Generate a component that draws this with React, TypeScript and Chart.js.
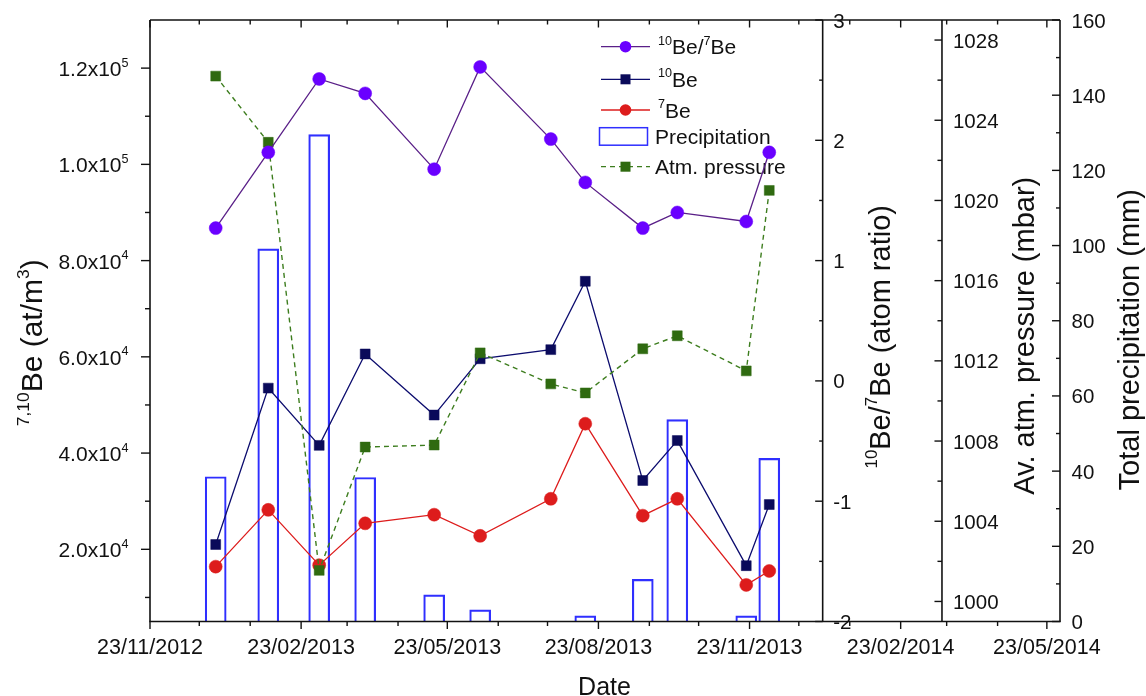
import React, { useEffect, useRef } from 'react';
import { Chart, registerables } from 'chart.js';

Chart.register(...registerables);

// ---------------- data ----------------
const sampleDates = ['2013-01-02', '2013-02-03', '2013-03-06', '2013-04-03', '2013-05-15', '2013-06-12', '2013-07-25', '2013-08-15', '2013-09-19', '2013-10-10', '2013-11-21', '2013-12-05'];
const ratio10Be7Be = [1.27, 1.9, 2.51, 2.39, 1.76, 2.61, 2.01, 1.65, 1.27, 1.4, 1.325, 1.9];
const be10Values = [21000, 53500, 41600, 60600, 47900, 59600, 61500, 75700, 34300, 42600, 16600, 29300];
const be7Values = [16400, 28200, 16700, 25400, 27200, 22800, 30500, 46100, 27000, 30500, 12600, 15500];
const precipitationMm = [38.5, 99.1, 129.5, 38.3, 7.1, 3.1, 0, 1.5, 11.2, 53.7, 1.5, 43.4];
const atmPressureMbar = [1026.2, 1022.9, 1001.55, 1007.7, 1007.8, 1012.4, 1010.85, 1010.4, 1012.6, 1013.25, 1011.5, 1020.5];

const xMajorTickDates = ['2012-11-23', '2013-02-23', '2013-05-23', '2013-08-23', '2013-11-23', '2014-02-23', '2014-05-23'];
const xMinorTickDates = ['2012-12-23', '2013-01-23', '2013-03-23', '2013-04-23', '2013-06-23', '2013-07-23', '2013-09-23', '2013-10-23', '2013-12-23', '2014-01-23', '2014-03-23', '2014-04-23'];
const beTicks = [20000, 40000, 60000, 80000, 100000, 120000];
const beMinorTicks = [10000, 30000, 50000, 70000, 90000, 110000];
const ratioTicks = [-2, -1, 0, 1, 2, 3];
const ratioMinorTicks = [-1.5, -0.5, 0.5, 1.5, 2.5];
const pressureTicks = [1000, 1004, 1008, 1012, 1016, 1020, 1024, 1028];
const pressureMinorTicks = [1002, 1006, 1010, 1014, 1018, 1022, 1026];
const precipTicks = [0, 20, 40, 60, 80, 100, 120, 140, 160];
const precipMinorTicks = [10, 30, 50, 70, 90, 110, 130, 150];

const X_START = '2012-11-23';
const X_END = '2014-05-31';

// ---------------- helpers ----------------
const FONT = '"Liberation Sans", Arial, Helvetica, sans-serif';
const INK = '#111111';

const toDay = (s: string) => (Date.parse(s + 'T00:00:00Z') - Date.parse(X_START + 'T00:00:00Z')) / 86400000;
const fmtDate = (s: string) => {
  const [y, m, d] = s.split('-');
  return `${d}/${m}/${y}`;
};
const sampleDays = sampleDates.map(toDay);
const pts = (vals: number[]) => vals.map((v, i) => ({ x: sampleDays[i], y: v }));

type Seg = { t: string; sup?: boolean };

function drawRich(
  ctx: CanvasRenderingContext2D,
  segs: Seg[],
  x: number,
  y: number,
  size: number,
  align: 'left' | 'center' | 'right',
  rotate = false,
  sx = 1,
  supRatio = 0.6,
) {
  ctx.save();
  ctx.translate(x, y);
  if (rotate) ctx.rotate(-Math.PI / 2);
  ctx.scale(sx, 1);
  let w = 0;
  for (const s of segs) {
    ctx.font = `${s.sup ? size * supRatio : size}px ${FONT}`;
    w += ctx.measureText(s.t).width;
  }
  let cx = align === 'left' ? 0 : align === 'center' ? -w / 2 : -w;
  ctx.fillStyle = INK;
  ctx.textBaseline = 'alphabetic';
  ctx.textAlign = 'left';
  for (const s of segs) {
    ctx.font = `${s.sup ? size * supRatio : size}px ${FONT}`;
    ctx.fillText(s.t, cx, s.sup ? -size * 0.45 : 0);
    cx += ctx.measureText(s.t).width;
  }
  ctx.restore();
}

function sciLabel(v: number): Seg[] {
  const e = Math.floor(Math.log10(v));
  const m = v / Math.pow(10, e);
  return [{ t: `${m.toFixed(1)}x10` }, { t: String(e), sup: true }];
}

function line(ctx: CanvasRenderingContext2D, x1: number, y1: number, x2: number, y2: number) {
  ctx.beginPath();
  ctx.moveTo(x1, y1);
  ctx.lineTo(x2, y2);
  ctx.stroke();
}

// layout constants (fractions of the plot width where the extra axes sit)
const RATIO_AXIS_FRAC = 0.7392;
const PRESSURE_AXIS_FRAC = 0.8703;

const COLORS = {
  ratioLine: '#5a2088',
  ratioPoint: '#6a00ff',
  be10: '#0c0c6e',
  be10Point: '#0a0a5a',
  be7: '#dd1c1c',
  precip: '#2f2fff',
  press: '#3d7d1e',
  pressPoint: '#2f6a10',
};

const legendItems: { segs: Seg[]; kind: 'circle' | 'rect' | 'bar'; line: string; marker: string; dash?: number[]; y: number; tx: number }[] = [
  { segs: [{ t: '10', sup: true }, { t: 'Be/' }, { t: '7', sup: true }, { t: 'Be' }], kind: 'circle', line: COLORS.ratioLine, marker: COLORS.ratioPoint, y: 46.7, tx: 658 },
  { segs: [{ t: '10', sup: true }, { t: 'Be' }], kind: 'rect', line: COLORS.be10, marker: COLORS.be10Point, y: 79.3, tx: 658 },
  { segs: [{ t: '7', sup: true }, { t: 'Be' }], kind: 'circle', line: COLORS.be7, marker: COLORS.be7, y: 110, tx: 658 },
  { segs: [{ t: 'Precipitation' }], kind: 'bar', line: COLORS.precip, marker: COLORS.precip, y: 136.2, tx: 655 },
  { segs: [{ t: 'Atm. pressure' }], kind: 'rect', line: COLORS.press, marker: COLORS.pressPoint, dash: [5, 4], y: 166.7, tx: 655 },
];

const decorPlugin = {
  id: 'decor',
  beforeDatasetsDraw(chart: any) {
    const ctx: CanvasRenderingContext2D = chart.ctx;
    ctx.save();
    for (const it of legendItems) {
      if (it.kind === 'bar') {
        ctx.strokeStyle = it.line;
        ctx.lineWidth = 1.5;
        ctx.strokeRect(599.5, it.y - 8.5, 48, 17.5);
      } else {
        ctx.strokeStyle = it.line;
        ctx.lineWidth = 1.3;
        ctx.setLineDash(it.dash || []);
        line(ctx, 601, it.y, 650, it.y);
        ctx.setLineDash([]);
        ctx.fillStyle = it.marker;
        if (it.kind === 'circle') {
          ctx.beginPath();
          ctx.arc(625.5, it.y, 5.8, 0, Math.PI * 2);
          ctx.fill();
        } else {
          ctx.fillRect(620.5, it.y - 5, 10, 10);
        }
      }
      drawRich(ctx, it.segs, it.tx, it.y + 7.5, 21, 'left', false, 1, 0.6);
    }
    ctx.restore();
  },
  afterDatasetsDraw(chart: any) {
    const ctx: CanvasRenderingContext2D = chart.ctx;
    const a = chart.chartArea;
    const sx = chart.scales.x;
    const yBe = chart.scales.yBe;
    const yR = chart.scales.yRatio;
    const yP = chart.scales.yPress;
    const yPr = chart.scales.yPrec;
    const W = a.right - a.left;
    const xR = a.left + RATIO_AXIS_FRAC * W;
    const xP = a.left + PRESSURE_AXIS_FRAC * W;
    const xPr = a.right;

    ctx.save();
    ctx.strokeStyle = INK;
    ctx.lineWidth = 1.6;
    // frame & axis lines
    line(ctx, a.left, a.top, a.right, a.top);
    line(ctx, a.left - 0.8, a.bottom, a.right + 0.8, a.bottom);
    line(ctx, a.left, a.top, a.left, a.bottom);
    line(ctx, xR, a.top, xR, a.bottom);
    line(ctx, xP, a.top, xP, a.bottom);
    line(ctx, xPr, a.top, xPr, a.bottom);

    ctx.lineWidth = 1.4;
    // x ticks (bottom outward, top mirrored inward)
    for (const d of xMajorTickDates) {
      const px = sx.getPixelForValue(toDay(d));
      line(ctx, px, a.bottom, px, a.bottom + 7.5);
      line(ctx, px, a.top, px, a.top + 7.5);
      drawRich(ctx, [{ t: fmtDate(d) }], px, a.bottom + 32, 21.5, 'center');
    }
    for (const d of xMinorTickDates) {
      const px = sx.getPixelForValue(toDay(d));
      line(ctx, px, a.bottom, px, a.bottom + 4.5);
      line(ctx, px, a.top, px, a.top + 4.5);
    }
    // left axis
    for (const v of beTicks) {
      const py = yBe.getPixelForValue(v);
      line(ctx, a.left - 9, py, a.left, py);
      drawRich(ctx, sciLabel(v), a.left - 21.5, py + 8, 21, 'right', false, 1, 0.6);
    }
    for (const v of beMinorTicks) {
      const py = yBe.getPixelForValue(v);
      line(ctx, a.left - 5, py, a.left, py);
    }
    // ratio axis
    for (const v of ratioTicks) {
      const py = yR.getPixelForValue(v);
      line(ctx, xR - 7.5, py, xR, py);
      drawRich(ctx, [{ t: String(v) }], xR + 10.5, py + 7.5, 20.5, 'left');
    }
    for (const v of ratioMinorTicks) {
      const py = yR.getPixelForValue(v);
      line(ctx, xR - 3.5, py, xR, py);
    }
    // pressure axis
    for (const v of pressureTicks) {
      const py = yP.getPixelForValue(v);
      line(ctx, xP - 7.5, py, xP, py);
      drawRich(ctx, [{ t: String(v) }], xP + 11, py + 7.5, 20.5, 'left');
    }
    for (const v of pressureMinorTicks) {
      const py = yP.getPixelForValue(v);
      line(ctx, xP - 4.5, py, xP, py);
    }
    // precipitation axis
    for (const v of precipTicks) {
      const py = yPr.getPixelForValue(v);
      line(ctx, xPr - 8, py, xPr, py);
      drawRich(ctx, [{ t: String(v) }], xPr + 11.5, py + 7.5, 20.5, 'left');
    }
    for (const v of precipMinorTicks) {
      const py = yPr.getPixelForValue(v);
      line(ctx, xPr - 4, py, xPr, py);
    }

    // axis titles
    const midY = (a.top + a.bottom) / 2;
    drawRich(ctx, [{ t: 'Date' }], 604.5, 695, 25, 'center');
    drawRich(ctx, [{ t: '7,10', sup: true }, { t: 'Be (at/m' }, { t: '3', sup: true }, { t: ')' }], 42, midY + 22, 30, 'center', true, 1, 0.58);
    drawRich(ctx, [{ t: '10', sup: true }, { t: 'Be/' }, { t: '7', sup: true }, { t: 'Be (atom ratio)' }], xR + 67, midY + 16, 29, 'center', true, 1, 0.58);
    drawRich(ctx, [{ t: 'Av. atm. pressure (mbar)' }], xP + 92, midY + 15, 29, 'center', true);
    drawRich(ctx, [{ t: 'Total precipitation (mm)' }], xPr + 79, midY + 19, 29, 'center', true);
    ctx.restore();
  },
};

export default function App() {
  const ref = useRef<HTMLCanvasElement | null>(null);

  useEffect(() => {
    const canvas = ref.current;
    if (!canvas) return;
    const chart = new Chart(canvas, {
      type: 'line',
      data: {
        datasets: [
          {
            type: 'line',
            label: '10Be/7Be',
            data: pts(ratio10Be7Be),
            yAxisID: 'yRatio',
            borderColor: COLORS.ratioLine,
            borderWidth: 1.3,
            pointStyle: 'circle',
            pointRadius: 6.5,
            pointBackgroundColor: COLORS.ratioPoint,
            pointBorderColor: COLORS.ratioPoint,
            pointBorderWidth: 0.5,
            order: 1,
          },
          {
            type: 'line',
            label: '10Be',
            data: pts(be10Values),
            yAxisID: 'yBe',
            borderColor: COLORS.be10,
            borderWidth: 1.3,
            pointStyle: 'rect',
            pointRadius: 7,
            pointBackgroundColor: COLORS.be10Point,
            pointBorderColor: COLORS.be10Point,
            pointBorderWidth: 0.5,
            order: 4,
          },
          {
            type: 'line',
            label: '7Be',
            data: pts(be7Values),
            yAxisID: 'yBe',
            borderColor: COLORS.be7,
            borderWidth: 1.3,
            pointStyle: 'circle',
            pointRadius: 6.5,
            pointBackgroundColor: COLORS.be7,
            pointBorderColor: COLORS.be7,
            pointBorderWidth: 0.5,
            order: 3,
          },
          {
            type: 'bar',
            label: 'Precipitation',
            data: pts(precipitationMm),
            yAxisID: 'yPrec',
            borderColor: COLORS.precip,
            backgroundColor: 'rgba(0,0,0,0)',
            borderWidth: 1.5,
            borderSkipped: 'start',
            barThickness: 21,
            order: 10,
          } as any,
          {
            type: 'line',
            label: 'Atm. pressure',
            data: pts(atmPressureMbar),
            yAxisID: 'yPress',
            borderColor: COLORS.press,
            borderWidth: 1.4,
            borderDash: [5, 4],
            pointStyle: 'rect',
            pointRadius: 7,
            pointBackgroundColor: COLORS.pressPoint,
            pointBorderColor: COLORS.pressPoint,
            pointBorderWidth: 0.5,
            order: 2,
          },
        ],
      },
      options: {
        responsive: false,
        animation: false,
        events: [],
        layout: { padding: { left: 150, top: 20, right: 86, bottom: 74.5 } },
        plugins: { legend: { display: false }, tooltip: { enabled: false } },
        scales: {
          x: { type: 'linear', min: 0, max: toDay(X_END), display: false, offset: false },
          yBe: { type: 'linear', min: 5000, max: 130000, display: false },
          yRatio: { type: 'linear', min: -2, max: 3, display: false },
          yPress: { type: 'linear', min: 999, max: 1029, display: false },
          yPrec: { type: 'linear', min: 0, max: 160, display: false },
        },
      } as any,
      plugins: [decorPlugin],
    });
    return () => chart.destroy();
  }, []);

  return (
    <div style={{ position: 'absolute', left: 0, top: 0, width: 1146, height: 696, background: '#ffffff' }}>
      <canvas ref={ref} width={1146} height={696} style={{ display: 'block', width: 1146, height: 696 }} />
    </div>
  );
}
